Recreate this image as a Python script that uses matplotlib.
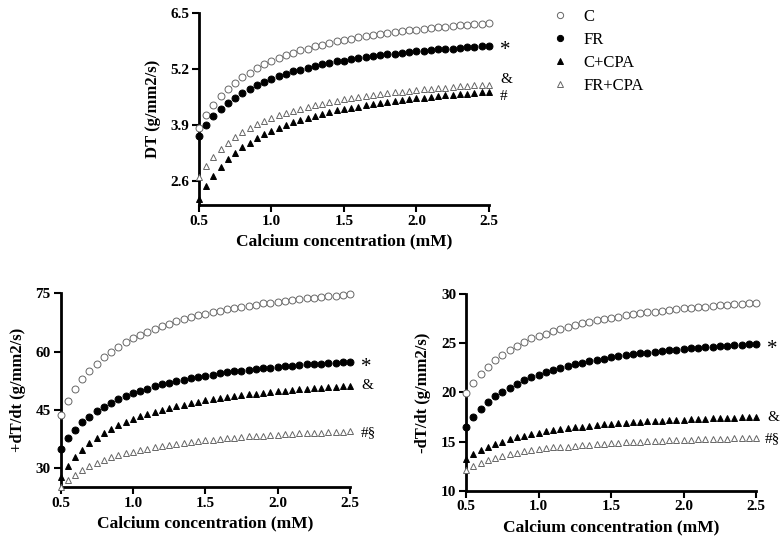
import numpy as np
import matplotlib
matplotlib.use("Agg")
import matplotlib.pyplot as plt
from matplotlib.lines import Line2D

plt.rcParams['font.family'] = ['Liberation Serif', 'DejaVu Serif']

# calcium concentration (mM), 0.5 to 2.5 in steps of 0.05
conc = np.round(np.arange(0.5, 2.5001, 0.05), 2)

groups = ['C', 'FR', 'C+CPA', 'FR+CPA']

# DT (g/mm2/s)
dt_c = [3.84, 4.13, 4.37, 4.57, 4.74, 4.88, 5.01, 5.12, 5.22, 5.31, 5.39, 5.46, 5.52, 5.58,
        5.64, 5.68, 5.73, 5.77, 5.81, 5.85, 5.88, 5.91, 5.94, 5.97, 6.00, 6.02, 6.04, 6.07,
        6.09, 6.11, 6.12, 6.14, 6.16, 6.17, 6.19, 6.21, 6.22, 6.23, 6.25, 6.26, 6.27]
dt_fr = [3.64, 3.89, 4.10, 4.27, 4.41, 4.54, 4.65, 4.75, 4.83, 4.91, 4.98, 5.04, 5.09, 5.15,
         5.19, 5.23, 5.27, 5.31, 5.34, 5.38, 5.40, 5.43, 5.46, 5.48, 5.50, 5.53, 5.55, 5.56,
         5.58, 5.60, 5.62, 5.63, 5.64, 5.66, 5.67, 5.68, 5.70, 5.71, 5.72, 5.73, 5.74]
dt_ccpa = [2.18, 2.48, 2.72, 2.92, 3.10, 3.25, 3.38, 3.49, 3.59, 3.68, 3.77, 3.84, 3.90, 3.96,
           4.02, 4.07, 4.12, 4.16, 4.20, 4.24, 4.27, 4.30, 4.33, 4.36, 4.39, 4.41, 4.44, 4.46,
           4.48, 4.50, 4.52, 4.54, 4.56, 4.57, 4.59, 4.60, 4.62, 4.63, 4.65, 4.66, 4.67]
dt_frcpa = [2.70, 2.95, 3.16, 3.34, 3.49, 3.62, 3.73, 3.83, 3.92, 3.99, 4.06, 4.13, 4.18, 4.23,
            4.28, 4.32, 4.36, 4.40, 4.44, 4.47, 4.50, 4.53, 4.55, 4.58, 4.60, 4.62, 4.64, 4.66,
            4.68, 4.70, 4.71, 4.73, 4.74, 4.76, 4.77, 4.78, 4.80, 4.81, 4.82, 4.83, 4.84]

# +dT/dt (g/mm2/s)
pdt_c = [43.6, 47.3, 50.3, 52.9, 55.1, 56.9, 58.6, 60.0, 61.3, 62.4, 63.4, 64.3, 65.1, 65.9,
         66.6, 67.2, 67.8, 68.3, 68.8, 69.3, 69.7, 70.1, 70.5, 70.9, 71.2, 71.5, 71.8, 72.1,
         72.4, 72.6, 72.8, 73.1, 73.3, 73.5, 73.7, 73.9, 74.1, 74.2, 74.4, 74.6, 74.7]
pdt_fr = [35.1, 37.7, 39.9, 41.8, 43.3, 44.7, 45.8, 46.9, 47.8, 48.6, 49.3, 50.0, 50.5, 51.1,
          51.6, 52.0, 52.4, 52.8, 53.2, 53.5, 53.8, 54.1, 54.4, 54.7, 54.9, 55.1, 55.3, 55.5,
          55.7, 55.9, 56.1, 56.2, 56.4, 56.5, 56.7, 56.8, 56.9, 57.1, 57.2, 57.3, 57.4]
pdt_ccpa = [27.8, 30.6, 32.9, 34.8, 36.4, 37.8, 39.1, 40.1, 41.1, 41.9, 42.7, 43.4, 44.0, 44.6,
            45.1, 45.6, 46.0, 46.4, 46.8, 47.1, 47.5, 47.8, 48.0, 48.3, 48.6, 48.8, 49.0, 49.2,
            49.4, 49.6, 49.8, 50.0, 50.1, 50.3, 50.4, 50.6, 50.7, 50.8, 51.0, 51.1, 51.2]
pdt_frcpa = [25.3, 27.0, 28.4, 29.5, 30.5, 31.4, 32.1, 32.8, 33.4, 33.9, 34.3, 34.8, 35.1, 35.5,
             35.8, 36.1, 36.3, 36.6, 36.8, 37.0, 37.2, 37.4, 37.6, 37.8, 37.9, 38.0, 38.2, 38.3,
             38.4, 38.5, 38.7, 38.8, 38.9, 39.0, 39.0, 39.1, 39.2, 39.3, 39.4, 39.4, 39.5]

# -dT/dt (g/mm2/s)
ndt_c = [19.9, 21.0, 21.9, 22.6, 23.3, 23.8, 24.3, 24.7, 25.1, 25.5, 25.8, 26.0, 26.3, 26.5,
         26.7, 26.9, 27.1, 27.2, 27.4, 27.5, 27.6, 27.7, 27.9, 28.0, 28.1, 28.2, 28.2, 28.3,
         28.4, 28.5, 28.6, 28.6, 28.7, 28.7, 28.8, 28.9, 28.9, 29.0, 29.0, 29.1, 29.1]
ndt_fr = [16.5, 17.5, 18.3, 19.0, 19.6, 20.1, 20.5, 20.9, 21.3, 21.6, 21.8, 22.1, 22.3, 22.5,
          22.7, 22.9, 23.0, 23.2, 23.3, 23.4, 23.6, 23.7, 23.8, 23.9, 24.0, 24.0, 24.1, 24.2,
          24.3, 24.3, 24.4, 24.5, 24.5, 24.6, 24.6, 24.7, 24.7, 24.8, 24.8, 24.9, 24.9]
ndt_ccpa = [13.2, 13.7, 14.1, 14.5, 14.8, 15.0, 15.3, 15.5, 15.6, 15.8, 15.9, 16.1, 16.2, 16.3,
            16.4, 16.5, 16.5, 16.6, 16.7, 16.8, 16.8, 16.9, 16.9, 17.0, 17.0, 17.1, 17.1, 17.1,
            17.2, 17.2, 17.2, 17.3, 17.3, 17.3, 17.4, 17.4, 17.4, 17.4, 17.5, 17.5, 17.5]
ndt_frcpa = [12.1, 12.5, 12.8, 13.1, 13.3, 13.5, 13.7, 13.8, 14.0, 14.1, 14.2, 14.3, 14.4, 14.5,
             14.5, 14.6, 14.7, 14.7, 14.8, 14.8, 14.9, 14.9, 15.0, 15.0, 15.0, 15.1, 15.1, 15.1,
             15.2, 15.2, 15.2, 15.2, 15.3, 15.3, 15.3, 15.3, 15.3, 15.4, 15.4, 15.4, 15.4]

# marker style per group: (marker, facecolor, edgecolor)
styles = {
    'C': ('o', 'white', '#666666'),
    'FR': ('o', 'black', 'black'),
    'C+CPA': ('^', 'black', 'black'),
    'FR+CPA': ('^', 'white', '#666666'),
}

fig = plt.figure(figsize=(7.81, 5.40), dpi=100)


def panel(rect, series, ylim, yticks, ylabel, notes):
    ax = fig.add_axes(rect)
    for g, vals in zip(groups, series):
        m, fc, ec = styles[g]
        ax.plot(conc, vals, linestyle='none', marker=m, ms=5, mfc=fc, mec=ec,
                mew=0.7, clip_on=False, zorder=3)
    ax.set_xlim(0.5, 2.5)
    ax.set_ylim(*ylim)
    ax.set_xticks([0.5, 1.0, 1.5, 2.0, 2.5])
    ax.set_yticks(yticks)
    ax.xaxis.set_major_formatter(matplotlib.ticker.FormatStrFormatter('%.1f'))
    for s in ['top', 'right']:
        ax.spines[s].set_visible(False)
    for s in ['left', 'bottom']:
        ax.spines[s].set_linewidth(2)
    ax.tick_params(direction='out', length=5, width=1.5, labelsize=11, pad=2)
    for lab in ax.get_xticklabels() + ax.get_yticklabels():
        lab.set_fontweight('bold')
    ax.set_xlabel('Calcium concentration (mM)', fontsize=12.5, fontweight='bold', labelpad=4)
    ax.set_ylabel(ylabel, fontsize=12, fontweight='bold', labelpad=7)
    for idx, txt, dx, dy in notes:
        size = 15 if txt == '*' else 11
        ax.annotate(txt, xy=(2.5, series[idx][-1]), xytext=(dx, dy),
                    textcoords='offset points', va='center', ha='left', fontsize=size)
    return ax


panel([0.2548, 0.6204, 0.3713, 0.355], [dt_c, dt_fr, dt_ccpa, dt_frcpa],
      (2.04, 6.5), [2.6, 3.9, 5.2, 6.5], 'DT (g/mm2/s)',
      [(1, '*', 8, -3), (3, '&', 8, 4), (2, '#', 8, -3)])

panel([0.0775, 0.0981, 0.3707, 0.3588], [pdt_c, pdt_fr, pdt_ccpa, pdt_frcpa],
      (25.2, 75), [30, 45, 60, 75], '+dT/dt (g/mm2/s)',
      [(1, '*', 8, -4), (2, '&', 8, 0), (3, '#§', 8, -1)])

panel([0.5967, 0.0913, 0.3713, 0.3637], [ndt_c, ndt_fr, ndt_ccpa, ndt_frcpa],
      (10, 30), [10, 15, 20, 25, 30], '-dT/dt (g/mm2/s)',
      [(1, '*', 8, -4), (2, '&', 8, 0), (3, '#§', 6, -1)])

handles = []
for g in groups:
    m, fc, ec = styles[g]
    handles.append(Line2D([], [], linestyle='none', marker=m, ms=4.5, mfc=fc, mec=ec, mew=0.7))
fig.legend(handles, groups, loc='upper left', bbox_to_anchor=(0.685, 1.012), frameon=False,
           fontsize=12, handletextpad=0.8, labelspacing=0.42, handlelength=1.2)

fig.savefig('out.png', dpi=100)
